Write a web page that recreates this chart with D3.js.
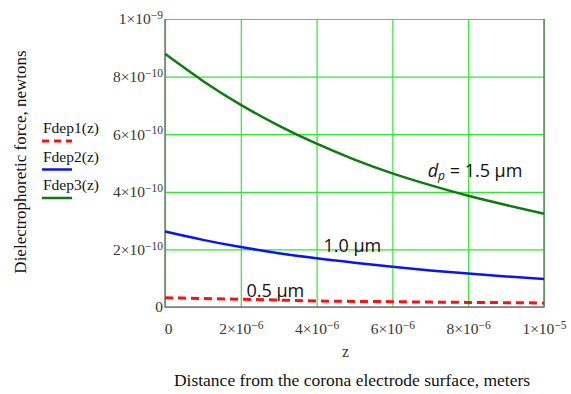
<!DOCTYPE html>
<html>
<head>
<meta charset="utf-8">
<script src="https://cdn.jsdelivr.net/npm/d3@7"></script>
<style>
  body { margin: 0; background: #fff; }
  svg { display: block; }
</style>
</head>
<body>
<script>
// distance z from the electrode surface, meters
var zValues = [0, 1e-6, 2e-6, 3e-6, 4e-6, 5e-6, 6e-6, 7e-6, 8e-6, 9e-6, 1e-5];

// dielectrophoretic force, newtons
var fdep1 = [0.032e-9, 0.0295e-9, 0.027e-9, 0.024e-9, 0.021e-9, 0.0195e-9, 0.0185e-9, 0.017e-9, 0.016e-9, 0.015e-9, 0.014e-9];
var fdep2 = [0.262e-9, 0.233e-9, 0.208e-9, 0.187e-9, 0.169e-9, 0.154e-9, 0.140e-9, 0.127e-9, 0.116e-9, 0.106e-9, 0.097e-9];
var fdep3 = [0.879e-9, 0.785e-9, 0.702e-9, 0.630e-9, 0.567e-9, 0.512e-9, 0.464e-9, 0.423e-9, 0.386e-9, 0.354e-9, 0.324e-9];

var seriesNames = ["Fdep1(z)", "Fdep2(z)", "Fdep3(z)"];
var seriesLabels = ["0.5 µm", "1.0 µm", "1.5 µm"];

// tick values and their labels (mantissa and exponent)
var xTicks = [0, 2e-6, 4e-6, 6e-6, 8e-6, 1e-5];
var xTickBase = ["0", "2×10", "4×10", "6×10", "8×10", "1×10"];
var xTickExp = ["", "−6", "−6", "−6", "−6", "−5"];
var yTicks = [0, 2e-10, 4e-10, 6e-10, 8e-10, 1e-9];
var yTickBase = ["0", "2×10", "4×10", "6×10", "8×10", "1×10"];
var yTickExp = ["", "−10", "−10", "−10", "−10", "−9"];

var margin = { top: 19, right: 27, bottom: 87, left: 165 };
var W = 571, H = 394;
var w = W - margin.left - margin.right;
var h = H - margin.top - margin.bottom;

var serif = "'Liberation Serif', 'Times New Roman', serif";
var sans = "'Open Sans', 'Liberation Sans', sans-serif";
var tickColor = "#3a3530";

var svg = d3.select("body").append("svg")
    .attr("width", W)
    .attr("height", H);

var g = svg.append("g")
    .attr("transform", "translate(" + margin.left + "," + margin.top + ")");

var x = d3.scaleLinear().domain([0, 1e-5]).range([0, w]);
var y = d3.scaleLinear().domain([0, 1e-9]).range([h, 0]);

// gridlines
g.append("g")
    .attr("class", "grid")
    .attr("transform", "translate(0," + h + ")")
    .call(d3.axisBottom(x).tickValues(xTicks).tickSize(-h).tickFormat(""))
    .call(function(s) {
        s.select(".domain").remove();
        s.selectAll("line").attr("stroke", "#2ee82e").attr("stroke-width", 1.2);
    });

g.append("g")
    .attr("class", "grid")
    .call(d3.axisLeft(y).tickValues(yTicks).tickSize(-w).tickFormat(""))
    .call(function(s) {
        s.select(".domain").remove();
        s.selectAll("line").attr("stroke", "#2ee82e").attr("stroke-width", 1.2);
    });

// frame (left, bottom, right)
g.append("path")
    .attr("d", "M0,0V" + h + "H" + w + "V0")
    .attr("fill", "none")
    .attr("stroke", "#7a7a7a")
    .attr("stroke-width", 1.5);

// tick labels with superscript exponents
function expLabel(sel, base, exp) {
    sel.each(function(d, i) {
        var t = d3.select(this).text(null);
        t.append("tspan").text(base[i]);
        if (exp[i]) {
            t.append("tspan")
                .attr("dy", "-0.45em")
                .attr("font-size", "11.5px")
                .text(exp[i]);
        }
    });
}

var xAxis = g.append("g")
    .attr("transform", "translate(0," + h + ")")
    .call(d3.axisBottom(x).tickValues(xTicks).tickSize(0).tickPadding(16));
xAxis.select(".domain").remove();
xAxis.selectAll("text")
    .attr("font-family", serif)
    .attr("font-size", "15.5px")
    .attr("fill", tickColor)
    .call(expLabel, xTickBase, xTickExp);
xAxis.selectAll("text").filter(function(d) { return d === 0; }).attr("dx", 3);

var yAxis = g.append("g")
    .call(d3.axisLeft(y).tickValues(yTicks).tickSize(0).tickPadding(2));
yAxis.select(".domain").remove();
yAxis.selectAll("text")
    .attr("font-family", serif)
    .attr("font-size", "15.5px")
    .attr("fill", tickColor)
    .call(expLabel, yTickBase, yTickExp);

// curves
var series = [
    { name: seriesNames[0], values: fdep1, color: "#ff1010", width: 3, dash: "8,5" },
    { name: seriesNames[1], values: fdep2, color: "#0a14f0", width: 2.5, dash: null },
    { name: seriesNames[2], values: fdep3, color: "#0b7d10", width: 2.5, dash: null }
];

var line = d3.line()
    .x(function(d, i) { return x(zValues[i]); })
    .y(function(d) { return y(d); })
    .curve(d3.curveNatural);

g.selectAll(".curve")
    .data(series)
    .enter().append("path")
    .attr("class", "curve")
    .attr("d", function(d) { return line(d.values); })
    .attr("fill", "none")
    .attr("stroke", function(d) { return d.color; })
    .attr("stroke-width", function(d) { return d.width; })
    .attr("stroke-dasharray", function(d) { return d.dash; });

// in-plot size labels
var lbl = g.append("g")
    .attr("font-family", sans)
    .attr("font-size", "18px")
    .attr("fill", "#111");

lbl.append("text")
    .attr("x", x(0.215e-5))
    .attr("y", y(0.05e-9) + 4)
    .text(seriesLabels[0]);

lbl.append("text")
    .attr("x", x(0.418e-5))
    .attr("y", y(0.21e-9) + 5)
    .text(seriesLabels[1]);

var dp = lbl.append("text")
    .attr("x", x(0.693e-5))
    .attr("y", y(0.455e-9) + 1);
dp.append("tspan").attr("font-style", "italic").text("d");
dp.append("tspan").attr("font-style", "italic").attr("font-size", "12px").attr("dy", 3).text("p");
dp.append("tspan").attr("dy", -3).text(" = " + seriesLabels[2]);

// legend
var legend = svg.append("g")
    .attr("font-family", serif)
    .attr("font-size", "15.5px")
    .attr("fill", "#111");

series.forEach(function(s, i) {
    var ly = 133 + i * 28.5;
    legend.append("text")
        .attr("x", 43)
        .attr("y", ly)
        .text(s.name);
    legend.append("line")
        .attr("x1", 42).attr("x2", 72)
        .attr("y1", ly + 8).attr("y2", ly + 8)
        .attr("stroke", s.color)
        .attr("stroke-width", s.width)
        .attr("stroke-dasharray", s.dash ? "7,5" : null);
});

// axis titles
svg.append("text")
    .attr("x", margin.left + x(0.5e-5) - 9)
    .attr("y", 357)
    .attr("text-anchor", "middle")
    .attr("font-family", serif)
    .attr("font-size", "16px")
    .attr("fill", tickColor)
    .text("z");

svg.append("text")
    .attr("x", 352)
    .attr("y", 386)
    .attr("text-anchor", "middle")
    .attr("font-family", serif)
    .attr("font-size", "17.5px")
    .attr("fill", "#111")
    .text("Distance from the corona electrode surface, meters");

svg.append("text")
    .attr("transform", "translate(26,162) rotate(-90)")
    .attr("text-anchor", "middle")
    .attr("font-family", serif)
    .attr("font-size", "17px")
    .attr("fill", "#111")
    .text("Dielectrophoretic force, newtons");
</script>
</body>
</html>
